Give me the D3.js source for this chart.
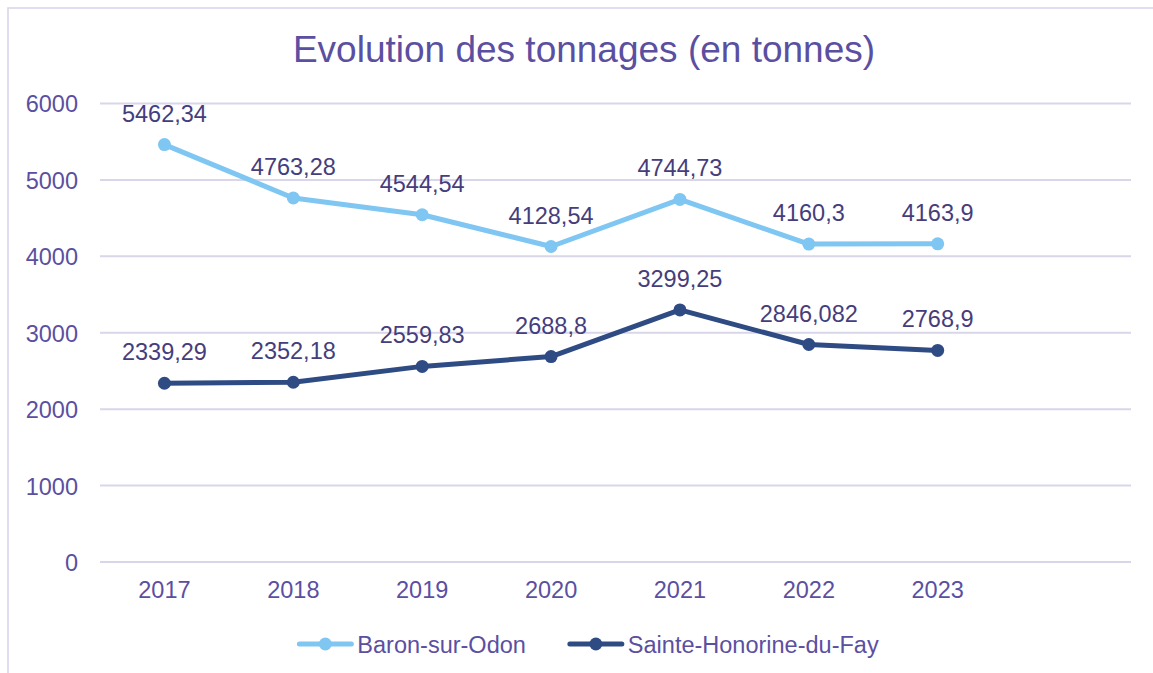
<!DOCTYPE html>
<html>
<head>
<meta charset="utf-8">
<script src="https://cdn.jsdelivr.net/npm/d3@7"></script>
<style>
  body { margin: 0; background: #fff; }
  text { font-family: "Liberation Sans", Arial, sans-serif; }
</style>
</head>
<body>
<svg id="chart" width="1153" height="673"></svg>
<script>
// data
const years = ['2017', '2018', '2019', '2020', '2021', '2022', '2023', '']
const baron = [5462.34, 4763.28, 4544.54, 4128.54, 4744.73, 4160.3, 4163.9]
const baronLabels = ['5462,34', '4763,28', '4544,54', '4128,54', '4744,73', '4160,3', '4163,9']
const sainte = [2339.29, 2352.18, 2559.83, 2688.8, 3299.25, 2846.082, 2768.9]
const sainteLabels = ['2339,29', '2352,18', '2559,83', '2688,8', '3299,25', '2846,082', '2768,9']
const yTicks = [0, 1000, 2000, 3000, 4000, 5000, 6000]
const seriesNames = ['Baron-sur-Odon', 'Sainte-Honorine-du-Fay']

const textColor = '#5b4fa1'
const labelColor = '#453d7c'
const gridColor = '#d9d6ea'
const colors = ['#7fc6f2', '#2e4b84']
const fontSize = 23.5

const svg = d3.select('#chart')

// frame
svg.append('rect')
  .attr('x', 8).attr('y', 8)
  .attr('width', 1160).attr('height', 680)
  .attr('fill', 'none')
  .attr('stroke', '#d8d5ea')
  .attr('stroke-width', 1.5)

svg.append('text')
  .attr('x', 584).attr('y', 62)
  .attr('text-anchor', 'middle')
  .attr('font-size', 37)
  .attr('fill', textColor)
  .text('Evolution des tonnages (en tonnes)')

const x = d3.scaleBand().domain(years).range([100, 1131])
const y = d3.scaleLinear().domain([0, 6000]).range([562, 103.5])

// gridlines
svg.append('g')
  .selectAll('line')
  .data(yTicks)
  .join('line')
  .attr('x1', 100).attr('x2', 1131)
  .attr('y1', d => y(d)).attr('y2', d => y(d))
  .attr('stroke', gridColor)
  .attr('stroke-width', 2)

// y axis
const yAxis = svg.append('g')
  .attr('transform', 'translate(78,0)')
  .call(d3.axisLeft(y).tickValues(yTicks).tickFormat(d3.format('d')).tickSize(0).tickPadding(0))
yAxis.select('.domain').remove()
yAxis.selectAll('text')
  .attr('font-size', fontSize)
  .attr('fill', textColor)
  .style('font-family', '"Liberation Sans", Arial, sans-serif')
  .attr('dy', '0.36em')

// x axis
const xAxis = svg.append('g')
  .attr('transform', 'translate(0,562)')
  .call(d3.axisBottom(x).tickSize(0).tickPadding(0))
xAxis.select('.domain').remove()
xAxis.selectAll('text')
  .attr('font-size', fontSize)
  .attr('fill', textColor)
  .style('font-family', '"Liberation Sans", Arial, sans-serif')
  .attr('y', 36)
  .attr('dy', 0)

const cx = (d, i) => x(years[i]) + x.bandwidth() / 2
const line = d3.line().x(cx).y(d => y(d))

function drawSeries(values, labels, color) {
  const g = svg.append('g')
  g.append('path')
    .datum(values)
    .attr('d', line)
    .attr('fill', 'none')
    .attr('stroke', color)
    .attr('stroke-width', 5)
    .attr('stroke-linejoin', 'round')
  g.selectAll('circle')
    .data(values)
    .join('circle')
    .attr('cx', cx)
    .attr('cy', d => y(d))
    .attr('r', 6.5)
    .attr('fill', color)
  g.selectAll('text')
    .data(values)
    .join('text')
    .attr('x', cx)
    .attr('y', d => y(d) - 23)
    .attr('text-anchor', 'middle')
    .attr('font-size', fontSize)
    .attr('fill', labelColor)
    .text((d, i) => labels[i])
}
drawSeries(baron, baronLabels, colors[0])
drawSeries(sainte, sainteLabels, colors[1])

// legend
const legend = svg.append('g')
let lx = 0
seriesNames.forEach((name, i) => {
  const item = legend.append('g').attr('transform', 'translate(' + lx + ',0)')
  item.append('line')
    .attr('x1', 2).attr('x2', 54).attr('y1', 0).attr('y2', 0)
    .attr('stroke', colors[i]).attr('stroke-width', 5).attr('stroke-linecap', 'round')
  item.append('circle').attr('cx', 28).attr('cy', 0).attr('r', 6.5).attr('fill', colors[i])
  const t = item.append('text')
    .attr('x', 60).attr('y', 8.5)
    .attr('font-size', fontSize)
    .attr('fill', textColor)
    .text(name)
  lx += 60 + t.node().getComputedTextLength() + 42
})
const legendWidth = lx - 42
legend.attr('transform', 'translate(' + (588 - legendWidth / 2) + ',644)')
</script>
</body>
</html>
